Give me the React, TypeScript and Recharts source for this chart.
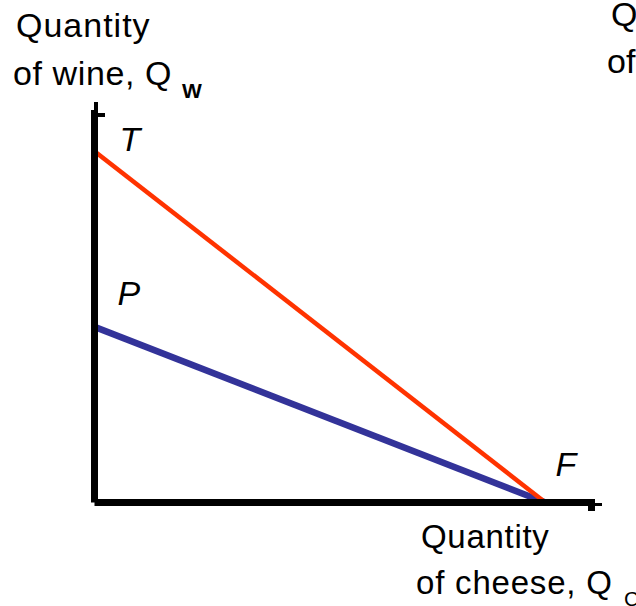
import React from 'react';
import { LineChart, Line, XAxis, YAxis, LabelList } from 'recharts';

// Quantity of cheese (x) for the two endpoints of each line
const cheese = [0, 100];
// Trade line (red): T on the wine axis to F on the cheese axis
const wineTrade = [100, 0];
const tradeLabels = ['T', 'F'];
// Production line (blue): P on the wine axis to F on the cheese axis
const wineProduction = [50, 0];
const productionLabels = ['P', ''];

const xDomain = [0, 111];
const yDomain = [0, 114];

const tradeData = cheese.map((c, i) => ({ cheese: c, wine: wineTrade[i], name: tradeLabels[i] }));
const productionData = cheese.map((c, i) => ({ cheese: c, wine: wineProduction[i], name: productionLabels[i] }));

const FONT = '"Liberation Sans", Arial, sans-serif';

const labelOffsets: Record<string, [number, number]> = {
  T: [25, 0],
  P: [23, -22],
  F: [10, -27],
};

const PointLabel = (props: any) => {
  const { x, y, value } = props;
  if (!value) return null;
  const off = labelOffsets[value] || [0, 0];
  return (
    <text x={x + off[0]} y={y + off[1]} fontFamily={FONT} fontSize={34} fontStyle="italic" fill="#000">
      {value}
    </text>
  );
};

export default function App() {
  return (
    <div style={{ position: 'absolute', left: 0, top: 0, width: 636, height: 606, overflow: 'hidden', background: '#fff' }}>
      <LineChart width={636} height={606} margin={{ top: 102, right: 41, bottom: 93.5, left: 84.5 }}>
        <Line
          data={productionData}
          dataKey="wine"
          stroke="#333399"
          strokeWidth={6.5}
          dot={false}
          isAnimationActive={false}
        >
          <LabelList dataKey="name" content={PointLabel} />
        </Line>
        <Line
          data={tradeData}
          dataKey="wine"
          stroke="#FF3300"
          strokeWidth={4.5}
          dot={false}
          isAnimationActive={false}
        >
          <LabelList dataKey="name" content={PointLabel} />
        </Line>
        <XAxis
          type="number"
          dataKey="cheese"
          domain={xDomain}
          allowDataOverflow
          tick={false}
          tickLine={false}
          height={10}
          axisLine={{ stroke: '#000', strokeWidth: 7 }}
        />
        <YAxis
          type="number"
          domain={yDomain}
          allowDataOverflow
          tick={false}
          tickLine={false}
          width={10}
          axisLine={{ stroke: '#000', strokeWidth: 7 }}
        />
      </LineChart>
      <svg
        width={636}
        height={606}
        style={{ position: 'absolute', left: 0, top: 0, pointerEvents: 'none' }}
      >
        {/* axis arrow ends */}
        <rect x={98} y={113} width={7} height={4} fill="#000" />
        <rect x={91} y={102} width={3} height={8} fill="#fff" />
        <rect x={595} y={503} width={7} height={3} fill="#000" />
        <rect x={588} y={506} width={7} height={5} fill="#000" />
        <g fontFamily={FONT} fill="#000">
          <text x={16} y={37} fontSize={34} letterSpacing={1}>Quantity</text>
          <text x={13} y={85} fontSize={34} letterSpacing={0.6}>of wine, Q</text>
          <text x={182} y={98} fontSize={21} fontWeight="bold">W</text>
          <text x={421} y={548} fontSize={33} letterSpacing={0.7}>Quantity</text>
          <text x={416} y={594} fontSize={33} letterSpacing={0.8}>of cheese, Q</text>
          <text x={624} y={606} fontSize={21}>C</text>
          <text x={611} y={26} fontSize={34} letterSpacing={1}>Quantity</text>
          <text x={607} y={73} fontSize={34}>of</text>
        </g>
      </svg>
    </div>
  );
}
